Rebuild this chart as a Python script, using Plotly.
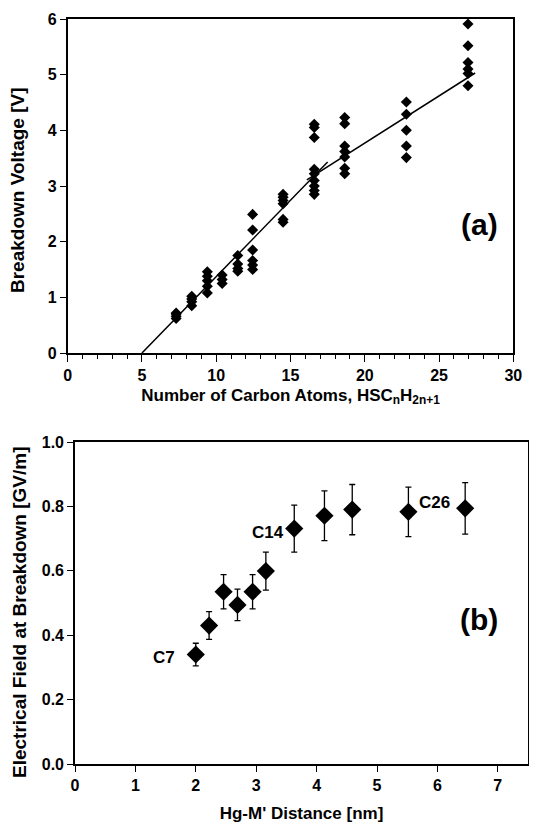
import plotly.graph_objects as go

# ---------------- Panel (a) data ----------------
carbon_n = [7.3, 8.35, 9.4, 10.4, 11.45, 12.45, 14.5, 16.6, 18.65, 22.8, 26.95]
breakdown_v = [
    [0.62, 0.66, 0.70, 0.72],
    [0.85, 0.92, 0.97, 1.02],
    [1.08, 1.20, 1.30, 1.38, 1.46],
    [1.25, 1.32, 1.40],
    [1.47, 1.52, 1.60, 1.75],
    [1.50, 1.58, 1.66, 1.85, 2.21, 2.49],
    [2.35, 2.40, 2.68, 2.74, 2.80, 2.85],
    [2.85, 2.92, 3.00, 3.10, 3.22, 3.30, 3.87, 4.05, 4.11],
    [3.22, 3.32, 3.52, 3.62, 3.72, 4.12, 4.23],
    [3.51, 3.72, 4.00, 4.29, 4.51],
    [4.80, 5.02, 5.10, 5.22, 5.52, 5.91],
]
fit1_x = [5.0, 17.5]
fit1_y = [0.0, 3.43]
fit2_x = [16.1, 27.43]
fit2_y = [3.11, 5.03]

# ---------------- Panel (b) data ----------------
distance_nm = [2.00, 2.22, 2.46, 2.69, 2.94, 3.16, 3.63, 4.13, 4.59, 5.52, 6.46]
field_gvm = [0.340, 0.430, 0.535, 0.494, 0.535, 0.599, 0.731, 0.771, 0.790, 0.783, 0.794]
field_err = [0.035, 0.043, 0.053, 0.049, 0.053, 0.059, 0.073, 0.077, 0.078, 0.077, 0.080]
labels_b = ["C7", "C14", "C26"]
labels_b_x = [1.48, 3.20, 5.95]
labels_b_y = [0.330, 0.718, 0.812]

xa_ticks = [0, 5, 10, 15, 20, 25, 30]
ya_ticks = [0, 1, 2, 3, 4, 5, 6]
xb_ticks = [0, 1, 2, 3, 4, 5, 6, 7]
yb_ticks = [0.0, 0.2, 0.4, 0.6, 0.8, 1.0]

FONT = "Liberation Sans, Arial, sans-serif"
OFF = 8            # default page margin around the plot div
W, H = 537 - 2 * OFF, 836 - 2 * OFF

pts_x, pts_y = [], []
for n, vs in zip(carbon_n, breakdown_v):
    for v in vs:
        pts_x.append(n)
        pts_y.append(v)

fig = go.Figure()
fig.add_trace(go.Scatter(x=pts_x, y=pts_y, mode="markers",
                         marker=dict(symbol="diamond", size=8.5, color="black"),
                         xaxis="x", yaxis="y", showlegend=False))
fig.add_trace(go.Scatter(x=fit1_x, y=fit1_y, mode="lines",
                         line=dict(color="black", width=1.5),
                         xaxis="x", yaxis="y", showlegend=False))
fig.add_trace(go.Scatter(x=fit2_x, y=fit2_y, mode="lines",
                         line=dict(color="black", width=1.5),
                         xaxis="x", yaxis="y", showlegend=False))
fig.add_trace(go.Scatter(x=distance_nm, y=field_gvm, mode="markers",
                         marker=dict(symbol="diamond", size=14, color="black"),
                         error_y=dict(type="data", array=field_err, color="black",
                                      thickness=1.3, width=3),
                         xaxis="x2", yaxis="y2", showlegend=False))

def fx(p):  # page pixel -> paper fraction (x)
    return (p - OFF) / W

def fy(p):  # page pixel -> paper fraction (y)
    return 1 - (p - OFF) / H

tickfont = dict(family=FONT, size=16, color="black", weight="bold")
titlefont = dict(family=FONT, size=17, color="black", weight="bold")
ytitlefont = dict(family=FONT, size=19, color="black", weight="bold")

common = dict(showline=True, linecolor="black", linewidth=1.6, mirror=True,
              ticks="outside", tickcolor="black", tickwidth=1.2,
              showgrid=False, zeroline=False, tickfont=tickfont, automargin=False)

fig.update_layout(
    width=W, height=H,
    margin=dict(l=0, r=0, t=0, b=0),
    paper_bgcolor="white", plot_bgcolor="white",
    xaxis=dict(domain=[fx(67.7), fx(513.3)], range=[0, 30], anchor="y",
               tickvals=xa_ticks, ticklen=7,
               minor=dict(dtick=1, ticks="outside", ticklen=4, tickcolor="black", tickwidth=1),
               title=dict(text="Number of Carbon Atoms, HSC<sub>n</sub>H<sub>2n+1</sub>",
                          font=titlefont, standoff=6),
               **common),
    yaxis=dict(domain=[fy(353), fy(19)], range=[0, 6], anchor="x",
               tickvals=ya_ticks, ticklen=6, **common),
    xaxis2=dict(domain=[fx(75), fx(528)], range=[0, 7.5], anchor="y2",
                tickvals=xb_ticks, ticklen=6,
                title=dict(text="Hg-M' Distance [nm]", font=titlefont, standoff=14),
                **common),
    yaxis2=dict(domain=[fy(764), fy(442)], range=[0, 1], anchor="x2",
                tickvals=yb_ticks, tickformat=".1f", ticklen=6, **common),
)

annotations = [
    dict(text="Breakdown Voltage [V]", x=fx(18), y=fy(190), xref="paper", yref="paper",
         textangle=-90, showarrow=False, xanchor="center", yanchor="middle", font=ytitlefont),
    dict(text="Electrical Field at Breakdown [GV/m]", x=fx(19), y=fy(612),
         xref="paper", yref="paper", textangle=-90, showarrow=False,
         xanchor="center", yanchor="middle", font=ytitlefont),
    dict(text="(a)", x=27.7, y=2.3, xref="x", yref="y", showarrow=False,
         font=dict(family=FONT, size=30, color="black", weight="bold")),
    dict(text="(b)", x=6.69, y=0.45, xref="x2", yref="y2", showarrow=False,
         font=dict(family=FONT, size=30, color="black", weight="bold")),
]
for t, x, y in zip(labels_b, labels_b_x, labels_b_y):
    annotations.append(dict(text=t, x=x, y=y, xref="x2", yref="y2", showarrow=False,
                            font=dict(family=FONT, size=17, color="black", weight="bold")))
fig.update_layout(annotations=annotations)

fig.write_html("out.html")
